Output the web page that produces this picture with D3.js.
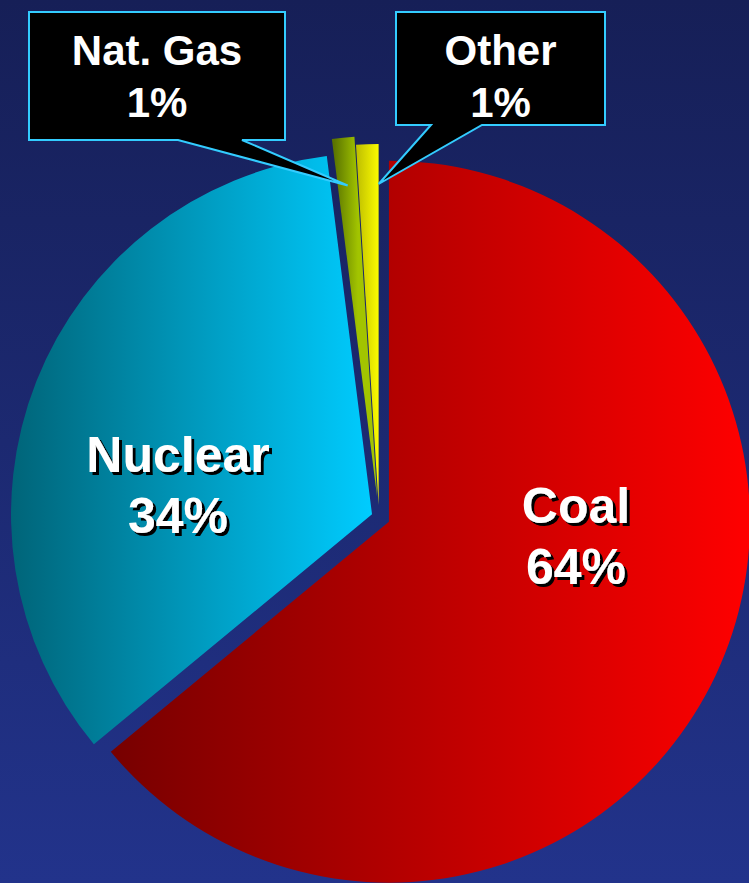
<!DOCTYPE html>
<html lang="en">
<head>
	<meta charset="UTF-8">
	<script src="https://d3js.org/d3.v7.min.js"></script>
	<title>Generation Mix</title>
	<style type="text/css">
		body{ margin: 0; background: #1b2870; }
		svg{ display: block; }
		.lbl{ font-family: "Liberation Sans", Arial, sans-serif; font-weight: bold; text-anchor: middle; }
	</style>
</head>
<body onload="main()">
	<svg width="749" height="883"></svg>
</body>

	<script>
		// chart data
		var categories = ["Coal", "Nuclear", "Nat. Gas", "Other"];
		var values = [64, 34, 1, 1];
		var pctLabels = ["64%", "34%", "1%", "1%"];

		function main() {
		var svg = d3.select("svg"),
		    width = 749,
		    height = 883;

		var cx = 379, cy = 517, radius = 361;
		var explode = [11, 7.5, 20, 12];
		// dark colour, light colour, page x where each starts / ends
		var grads = [
			["#760000", "#ff0000", 108, 750],
			["#006478", "#00ccff", 10, 372],
			["#5a7400", "#a2c400", 334, 358],
			["#bdbd00", "#ffff00", 356, 380]
		];

		var defs = svg.append("defs");
		var bg = defs.append("linearGradient").attr("id", "bg")
			.attr("x1", 0).attr("y1", 0).attr("x2", 0).attr("y2", 1);
		bg.append("stop").attr("offset", "0%").attr("stop-color", "#161f57");
		bg.append("stop").attr("offset", "100%").attr("stop-color", "#22338b");

		var shadow = defs.append("filter").attr("id", "shadow")
			.attr("x", "-20%").attr("y", "-20%").attr("width", "140%").attr("height", "140%");
		shadow.append("feDropShadow").attr("dx", 3).attr("dy", 3)
			.attr("stdDeviation", 0).attr("flood-color", "#000").attr("flood-opacity", 1);

		svg.append("rect").attr("width", width).attr("height", height).attr("fill", "url(#bg)");

		var pie = d3.pie().sort(null).value(function(d) { return d; });
		var arcs = pie(values);
		var arc = d3.arc().innerRadius(0).outerRadius(radius);

		function offset(d, i) {
			var a = (d.startAngle + d.endAngle) / 2;
			return [cx + Math.sin(a) * explode[i], cy - Math.cos(a) * explode[i]];
		}

		// gradients in each slice's local coords
		arcs.forEach(function(d, i) {
			var o = offset(d, i), g = grads[i];
			var lg = defs.append("linearGradient").attr("id", "g" + i)
				.attr("gradientUnits", "userSpaceOnUse")
				.attr("x1", g[2] - o[0]).attr("y1", 0).attr("x2", g[3] - o[0]).attr("y2", 0);
			lg.append("stop").attr("offset", "0%").attr("stop-color", g[0]);
			lg.append("stop").attr("offset", "100%").attr("stop-color", g[1]);
		});

		svg.selectAll(".slice")
			.data(arcs)
			.enter().append("path")
			.attr("class", "slice")
			.attr("transform", function(d, i) { var o = offset(d, i); return "translate(" + o[0] + "," + o[1] + ")"; })
			.attr("d", arc)
			.attr("fill", function(d, i) { return "url(#g" + i + ")"; });

		// big labels with drop shadow
		var inner = [
			{ i: 0, x: 576, y: 523 },
			{ i: 1, x: 178, y: 472 }
		];
		inner.forEach(function(p) {
			var t = svg.append("text").attr("class", "lbl")
				.attr("font-size", "50px").attr("fill", "#fff")
				.attr("filter", "url(#shadow)");
			t.append("tspan").attr("x", p.x).attr("y", p.y).text(categories[p.i]);
			t.append("tspan").attr("x", p.x).attr("y", p.y + 61).text(pctLabels[p.i]);
		});

		// callouts for the small slices
		var callouts = [
			{ i: 2, x0: 29, x1: 285, y0: 12, y1: 140, b0: 178, b1: 242, r: 313, f: 0.5 },
			{ i: 3, x0: 396, x1: 605, y0: 12, y1: 125, b0: 431, b1: 482, r: 321, f: 1.0 }
		];
		callouts.forEach(function(c) {
			var d = arcs[c.i], o = offset(d, c.i);
			var a = d.startAngle + (d.endAngle - d.startAngle) * c.f;
			var tip = [o[0] + Math.sin(a) * c.r, o[1] - Math.cos(a) * c.r];
			var p = d3.path();
			p.moveTo(c.x0, c.y0);
			p.lineTo(c.x1, c.y0);
			p.lineTo(c.x1, c.y1);
			p.lineTo(c.b1, c.y1);
			p.lineTo(tip[0], tip[1]);
			p.lineTo(c.b0, c.y1);
			p.lineTo(c.x0, c.y1);
			p.closePath();
			svg.append("path").attr("d", p.toString())
				.attr("fill", "#000").attr("stroke", "#33ccff").attr("stroke-width", 2);
			var mx = (c.x0 + c.x1) / 2;
			var t = svg.append("text").attr("class", "lbl").attr("font-size", "42px").attr("fill", "#fff");
			t.append("tspan").attr("x", mx).attr("y", 65).text(categories[c.i]);
			t.append("tspan").attr("x", mx).attr("y", 117).text(pctLabels[c.i]);
		});
	}
	</script>
</html>
